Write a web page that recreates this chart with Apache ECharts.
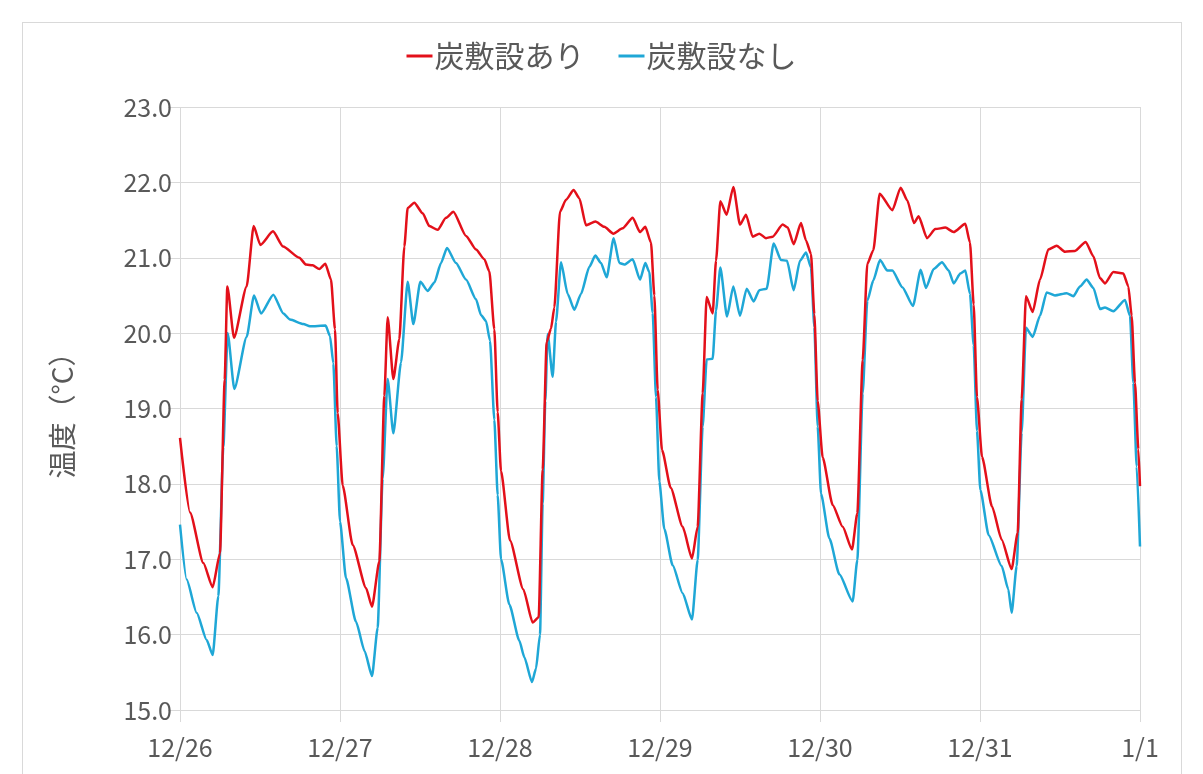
<!DOCTYPE html>
<html>
<head>
<meta charset="utf-8">
<script src="https://cdn.jsdelivr.net/npm/echarts@6/dist/echarts.min.js"></script>
<style>
  html, body { margin: 0; padding: 0; background: #ffffff; }
  #frame { position: absolute; left: 22px; top: 22px; width: 1160px; height: 800px; border: 1px solid #d9d9d9; box-sizing: border-box; }
  #chart { position: absolute; left: 0; top: 0; width: 1203px; height: 774px; }
</style>
</head>
<body>
<div id="frame"></div>
<div id="chart"></div>
<script>
// Day labels for the x axis (one every 24 h)
const dayLabels = ['12/26', '12/27', '12/28', '12/29', '12/30', '12/31', '1/1'];

// 炭敷設あり: elapsed hours since 12/26 00:00 and room temperature (°C)
const withCharcoalHours = [
  0, 1.5, 3.5, 4.9, 6, 6.7, 7.1, 8.1, 10, 11.05, 12.05, 13.95, 15.45, 17.9, 18.9, 19.9, 20.9, 21.8, 22.65, 23.25, 23.65,
  24.4, 25.9, 27.9, 28.8, 29.9, 30.65, 31.15, 32, 32.9, 33.65, 34.15, 35.15, 36.4, 37.4, 38.65, 39.9, 41, 42.9, 44.4, 45.65, 46.4, 47.15, 47.65,
  48.15, 49.5, 51.5, 52.9, 53.8, 54.4, 55, 55.65, 56.15, 57, 57.9, 59.05, 59.9, 60.9, 62.3, 63.65, 65, 66.4, 67.9, 69, 69.8, 70.65, 71.15, 71.65,
  72.3, 73.6, 75.4, 76.8, 77.65, 78.4, 79, 79.9, 80.4, 81.05, 82, 83, 84, 84.9, 85.9, 86.9, 87.9, 88.9, 90.4, 91.15, 92.05, 93.15, 93.9, 94.65, 95.15, 95.65,
  96.4, 97.9, 99.4, 100.8, 101.6, 102.4, 103.1, 104, 104.95, 106.85, 108.1, 109.1, 110.1, 110.8, 112.05, 113.3, 114.8, 116.05, 117.8, 118.5, 119.05, 119.55,
  120.3, 121.8, 123.25, 124.75, 125.65, 126.25, 126.9, 127.9, 129, 130.25, 131.5, 132.75, 134.25, 135.85, 137, 138, 138.75, 140, 141.5, 142.25, 142.75, 143.25, 143.75, 144
];
const withCharcoalTemps = [
  18.61, 17.62, 16.95, 16.63, 17.08, 19.38, 20.62, 19.94, 20.62, 21.42, 21.17, 21.35, 21.15, 21.00, 20.91, 20.90, 20.85, 20.92, 20.71, 20.05, 18.94,
  17.98, 17.19, 16.62, 16.37, 16.97, 19.17, 20.21, 19.39, 19.92, 21.15, 21.66, 21.73, 21.59, 21.42, 21.37, 21.53, 21.61, 21.29, 21.11, 20.98, 20.82, 20.05, 18.95,
  18.17, 17.25, 16.60, 16.16, 16.23, 18.19, 19.88, 20.06, 20.34, 21.61, 21.77, 21.90, 21.79, 21.43, 21.48, 21.41, 21.32, 21.39, 21.53, 21.34, 21.41, 21.20, 20.50, 19.25,
  18.45, 17.95, 17.43, 17.01, 17.43, 19.20, 20.48, 20.26, 20.96, 21.75, 21.57, 21.94, 21.44, 21.57, 21.28, 21.32, 21.26, 21.28, 21.44, 21.40, 21.18, 21.46, 21.23, 21.05, 20.25, 19.10,
  18.35, 17.72, 17.43, 17.13, 17.61, 19.64, 20.92, 21.10, 21.85, 21.63, 21.93, 21.76, 21.46, 21.55, 21.26, 21.38, 21.40, 21.34, 21.45, 21.20, 20.38, 19.15,
  18.36, 17.70, 17.26, 16.87, 17.35, 19.12, 20.49, 20.28, 20.71, 21.11, 21.16, 21.08, 21.09, 21.21, 21.02, 20.73, 20.66, 20.81, 20.79, 20.62, 20.23, 19.34, 18.46, 17.97
];

// 炭敷設なし: elapsed hours since 12/26 00:00 and room temperature (°C)
const withoutCharcoalHours = [
  0, 1, 2.5, 4, 4.9, 5.75, 6.5, 7.15, 8.15, 10, 11.1, 12.15, 14, 15.5, 16.5, 18.5, 19.5, 21.85, 22.5, 23, 23.5,
  24, 24.9, 26.4, 27.7, 28.8, 29.65, 30.4, 31.15, 32, 33.15, 34.15, 35, 36.05, 37.15, 38.15, 39.15, 40.05, 41.4, 42.9, 44.4, 45.15, 45.9, 46.5, 47.15, 47.65,
  48.15, 49.4, 50.9, 51.65, 52.8, 53.4, 54, 54.4, 54.8, 55.15, 55.9, 56.4, 57.15, 58.15, 59.15, 60.15, 61.4, 62.3, 63.15, 64, 65.05, 65.9, 66.65, 67.9, 69, 69.8, 70.4, 70.9, 71.4, 71.9,
  72.65, 73.9, 75.4, 76.8, 77.65, 78.4, 79, 79.9, 80.4, 81.05, 82.05, 83, 84, 85, 86.05, 86.9, 88, 89.05, 90.15, 91.05, 92.05, 93, 93.9, 94.65, 95.15, 95.65,
  96.15, 97.4, 98.9, 100.9, 101.6, 102.4, 103.1, 104, 105, 106.1, 106.85, 108.35, 109.95, 111.1, 111.9, 113.05, 114.3, 115.3, 116.05, 117.05, 117.8, 118.5, 119.05, 119.55,
  120.05, 121.3, 123.25, 124.25, 124.75, 125.5, 126.25, 126.9, 127.9, 129, 130, 131.25, 133, 134, 135, 136, 137, 138, 138.75, 140, 141.75, 142.5, 143, 143.5, 144
];
const withoutCharcoalTemps = [
  17.46, 16.73, 16.29, 15.93, 15.73, 16.51, 18.49, 20.00, 19.26, 19.95, 20.50, 20.26, 20.51, 20.26, 20.18, 20.12, 20.09, 20.10, 19.96, 19.60, 18.50,
  17.50, 16.75, 16.17, 15.78, 15.45, 16.09, 18.07, 19.39, 18.67, 19.61, 20.68, 20.12, 20.68, 20.56, 20.67, 20.93, 21.13, 20.93, 20.71, 20.45, 20.24, 20.16, 19.90, 18.85, 17.85,
  17.00, 16.40, 15.92, 15.70, 15.37, 15.55, 16.00, 17.74, 19.10, 19.99, 19.42, 20.15, 20.94, 20.52, 20.31, 20.52, 20.88, 21.03, 20.93, 20.74, 21.26, 20.93, 20.91, 20.98, 20.71, 20.93, 20.81, 20.27, 19.15, 18.03,
  17.40, 16.92, 16.55, 16.20, 16.99, 18.76, 19.65, 19.66, 20.30, 20.87, 20.22, 20.62, 20.23, 20.59, 20.42, 20.57, 20.59, 21.19, 20.97, 20.96, 20.57, 20.96, 21.07, 20.87, 20.08, 18.76,
  17.87, 17.28, 16.80, 16.44, 16.99, 19.20, 20.43, 20.70, 20.97, 20.83, 20.83, 20.61, 20.36, 20.84, 20.60, 20.85, 20.94, 20.83, 20.66, 20.79, 20.83, 20.52, 19.84, 18.70,
  17.92, 17.32, 16.91, 16.60, 16.29, 16.91, 18.68, 20.07, 19.95, 20.23, 20.54, 20.50, 20.53, 20.49, 20.62, 20.71, 20.60, 20.32, 20.34, 20.29, 20.44, 20.23, 19.34, 18.23, 17.17
];

const pair = (xs, ys) => xs.map((x, i) => [x, ys[i]]);

const textColor = '#595959';
const gridColor = '#d9d9d9';
const jpFont = '"Noto Sans CJK JP", "Noto Sans", sans-serif';

const chart = echarts.init(document.getElementById('chart'), null, { renderer: 'canvas' });
chart.setOption({
  animation: false,
  textStyle: { fontFamily: jpFont },
  legend: {
    top: 36,
    left: 'center',
    itemGap: 34,
    itemWidth: 26,
    itemHeight: 3,
    icon: 'rect',
    textStyle: { fontSize: 30, color: textColor, fontFamily: jpFont, padding: [0, 0, 0, -3] },
    data: ['炭敷設あり', '炭敷設なし']
  },
  grid: { left: 180, right: 63, top: 107, bottom: 64, containLabel: false },
  xAxis: {
    type: 'value',
    min: 0,
    max: 144,
    interval: 24,
    axisLine: { show: true, lineStyle: { color: gridColor, width: 1 } },
    axisTick: { show: true, length: 12, lineStyle: { color: gridColor } },
    splitLine: { show: true, lineStyle: { color: gridColor, width: 1 } },
    axisLabel: {
      margin: 25,
      fontSize: 25,
      color: textColor,
      fontFamily: jpFont,
      formatter: v => dayLabels[Math.round(v / 24)]
    }
  },
  yAxis: {
    type: 'value',
    min: 15,
    max: 23,
    interval: 1,
    name: '温度（°C）',
    nameLocation: 'middle',
    nameGap: 104,
    nameTextStyle: { fontSize: 28, color: textColor, fontFamily: jpFont },
    axisLine: { show: false },
    axisTick: { show: true, length: 12, lineStyle: { color: gridColor } },
    splitLine: { show: true, lineStyle: { color: gridColor, width: 1 } },
    axisLabel: {
      margin: 8,
      fontSize: 25,
      color: textColor,
      fontFamily: jpFont,
      formatter: v => v.toFixed(1)
    }
  },
  series: [
    {
      name: '炭敷設あり',
      type: 'line',
      data: pair(withCharcoalHours, withCharcoalTemps),
      showSymbol: false,
      smooth: 0.2,
      smoothMonotone: 'x',
      itemStyle: { color: '#e3101a' },
      lineStyle: { color: '#e3101a', width: 2.5 },
      z: 3
    },
    {
      name: '炭敷設なし',
      type: 'line',
      data: pair(withoutCharcoalHours, withoutCharcoalTemps),
      showSymbol: false,
      smooth: 0.2,
      smoothMonotone: 'x',
      itemStyle: { color: '#1fa7d6' },
      lineStyle: { color: '#1fa7d6', width: 2.5 },
      z: 2
    }
  ]
});
</script>
</body>
</html>
